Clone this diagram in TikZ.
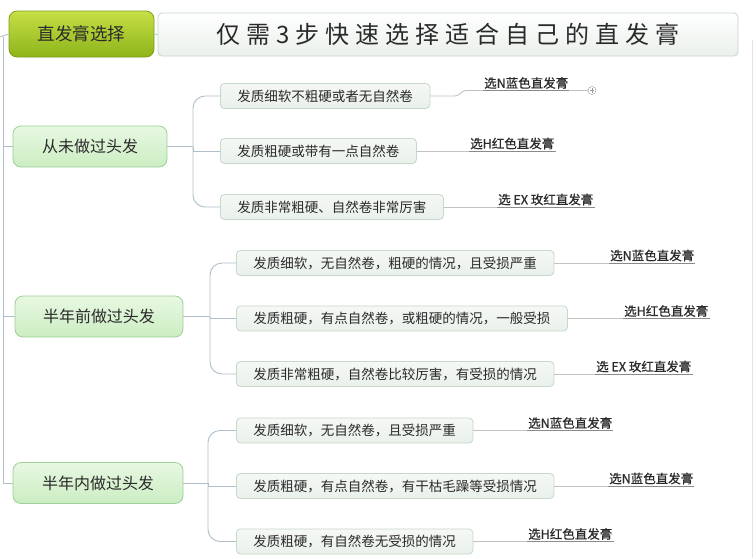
\documentclass[tikz,border=0pt]{standalone}
\usepackage{fontspec}
\setmainfont{Noto Sans CJK SC}
\newfontfamily\titlefont[LetterSpace=25]{Noto Sans CJK SC}
\newfontfamily\labfont[FakeBold=0.6]{Noto Sans CJK SC}
\definecolor{rootTop}{HTML}{C6E046}
\definecolor{rootBot}{HTML}{8DB41A}
\definecolor{rootBorder}{HTML}{7D9F16}
\definecolor{lvTop}{HTML}{E8F8E2}
\definecolor{lvBot}{HTML}{CBEDC2}
\definecolor{lvBorder}{HTML}{9DCF98}
\definecolor{leafTop}{HTML}{F5F8F5}
\definecolor{leafBot}{HTML}{E9F0EA}
\definecolor{leafBorder}{HTML}{C6D7CB}
\definecolor{connBlue}{HTML}{AEBFC9}
\definecolor{labLine}{HTML}{C2C2C2}
\definecolor{ulLine}{HTML}{8A8A8A}
\definecolor{txt}{HTML}{2A2A2A}
\tikzset{
  rootbox/.style={draw=rootBorder, line width=0.8pt, rounded corners=8pt, top color=rootTop, bottom color=rootBot,
    minimum width=145pt, minimum height=46pt, inner sep=0pt, text=txt, font=\fontsize{17.5}{20}\selectfont},
  titlebox/.style={draw=leafBorder, line width=0.8pt, rounded corners=4pt, top color=white, bottom color=leafBot,
    minimum width=580pt, minimum height=43pt, inner sep=0pt, text=txt, font=\titlefont\fontsize{24}{28}\selectfont},
  lvbox/.style={draw=lvBorder, line width=0.8pt, rounded corners=8pt, top color=lvTop, bottom color=lvBot,
    minimum height=41pt, inner sep=0pt, text=txt, font=\fontsize{16}{19}\selectfont},
  leaf/.style={draw=leafBorder, line width=0.8pt, rounded corners=4pt, top color=leafTop, bottom color=leafBot,
    minimum height=25pt, inner xsep=17pt, inner ysep=0pt, text=txt, font=\fontsize{13.5}{16}\selectfont},
  lab/.style={anchor=south west, inner xsep=1pt, inner ysep=1.5pt, text=txt, font=\labfont\fontsize{12.5}{14}\selectfont},
  conn/.style={draw=connBlue, line width=0.9pt},
  lline/.style={draw=labLine, line width=0.9pt},
  uline/.style={draw=ulLine, line width=0.8pt},
  plusnode/.style={draw=gray!70, circle, minimum size=8pt, inner sep=0pt, fill=white, line width=0.5pt}
}
\begin{document}
\begin{tikzpicture}[x=1pt,y=-1pt]
\useasboundingbox[fill=white] (0,0) rectangle (756,558);
\draw[gray!22, line width=1pt] (752,40) -- (752,558);

% root and title
\node[rootbox] (root) at (81.5,34) {直发膏选择};
\node[titlebox] (title) at (448,34.5) {仅需3步快速选择适合自己的直发膏};
\draw[conn] (root.east) -- (title.west);

% level 1
\node[lvbox, minimum width=154pt] (l1) at (90,146.5) {从未做过头发};
\node[lvbox, minimum width=168pt] (l2) at (99,316.5) {半年前做过头发};
\node[lvbox, minimum width=170pt] (l3) at (98,483) {半年内做过头发};
\coordinate (s0) at (0,37);
\coordinate (v0) at (3,37);
\coordinate (v1) at (3,146.5);
\coordinate (v2) at (3,316.5);
\coordinate (v3) at (3,483);
\draw[conn] (root.west) -- (s0);
\draw[conn] (v0) -- (v3) -- (l3.west);
\draw[conn] (v1) -- (l1.west);
\draw[conn] (v2) -- (l2.west);

% group 1
\node[leaf, anchor=west] (a1) at (220,96) {发质细软不粗硬或者无自然卷};
\node[leaf, anchor=west] (a2) at (220,151) {发质粗硬或带有一点自然卷};
\node[leaf, anchor=west] (a3) at (220,207) {发质非常粗硬、自然卷非常厉害};
\coordinate (j1) at (193,146.5);
\draw[conn] (l1.east) -- (j1);
\draw[conn, rounded corners=12pt] (j1) |- (a1.west);
\draw[conn, rounded corners=12pt] (j1) |- (a3.west);
\draw[conn] (j1) |- (a2.west);

\node[lab] (r1) at (483,90.5) {选N蓝色直发膏};
\node[plusnode] (p1) at (592,90.5) {};
\draw[gray!80, line width=0.5pt] ([xshift=-2.3pt]p1.center) -- ([xshift=2.3pt]p1.center)
  ([yshift=-2.3pt]p1.center) -- ([yshift=2.3pt]p1.center);
\coordinate (k1) at (454,96);
\coordinate (k2) at (467,90.5);
\draw[lline] (a1.east) -- (k1) .. controls (461,96) and (460,90.5) .. (k2) -- (p1.west);
\draw[uline] (r1.south west) -- (r1.south east);
\node[lab] (r2) at (469,151) {选H红色直发膏};
\draw[lline] (a2.east) -- (r2.south west);
\draw[uline] (r2.south west) -- (r2.south east);
\node[lab] (r3) at (497,207) {选\ EX 玫红直发膏};
\draw[lline] (a3.east) -- (r3.south west);
\draw[uline] (r3.south west) -- (r3.south east);

% group 2
\node[leaf, anchor=west] (a4) at (236,263) {发质细软，无自然卷，粗硬的情况，且受损严重};
\node[leaf, anchor=west] (a5) at (236,318.5) {发质粗硬，有点自然卷，或粗硬的情况，一般受损};
\node[leaf, anchor=west] (a6) at (236,374) {发质非常粗硬，自然卷比较厉害，有受损的情况};
\coordinate (j2) at (210,316.5);
\draw[conn] (l2.east) -- (j2);
\draw[conn, rounded corners=12pt] (j2) |- (a4.west);
\draw[conn, rounded corners=12pt] (j2) |- (a6.west);
\draw[conn] (j2) |- (a5.west);
\node[lab] (r4) at (609,263) {选N蓝色直发膏};
\draw[lline] (a4.east) -- (r4.south west);
\draw[uline] (r4.south west) -- (r4.south east);
\node[lab] (r5) at (623,318.5) {选H红色直发膏};
\draw[lline] (a5.east) -- (r5.south west);
\draw[uline] (r5.south west) -- (r5.south east);
\node[lab] (r6) at (595,374) {选\ EX 玫红直发膏};
\draw[lline] (a6.east) -- (r6.south west);
\draw[uline] (r6.south west) -- (r6.south east);

% group 3
\node[leaf, anchor=west] (a7) at (236,430.5) {发质细软，无自然卷，且受损严重};
\node[leaf, anchor=west] (a8) at (236,486) {发质粗硬，有点自然卷，有干枯毛躁等受损情况};
\node[leaf, anchor=west] (a9) at (236,541.5) {发质粗硬，有自然卷无受损的情况};
\coordinate (j3) at (208,483);
\draw[conn] (l3.east) -- (j3);
\draw[conn, rounded corners=12pt] (j3) |- (a7.west);
\draw[conn, rounded corners=12pt] (j3) |- (a9.west);
\draw[conn] (j3) |- (a8.west);
\node[lab] (r7) at (527,430.5) {选N蓝色直发膏};
\draw[lline] (a7.east) -- (r7.south west);
\draw[uline] (r7.south west) -- (r7.south east);
\node[lab] (r8) at (608,486) {选N蓝色直发膏};
\draw[lline] (a8.east) -- (r8.south west);
\draw[uline] (r8.south west) -- (r8.south east);
\node[lab] (r9) at (527,541.5) {选H红色直发膏};
\draw[lline] (a9.east) -- (r9.south west);
\draw[uline] (r9.south west) -- (r9.south east);
\end{tikzpicture}
\end{document}
